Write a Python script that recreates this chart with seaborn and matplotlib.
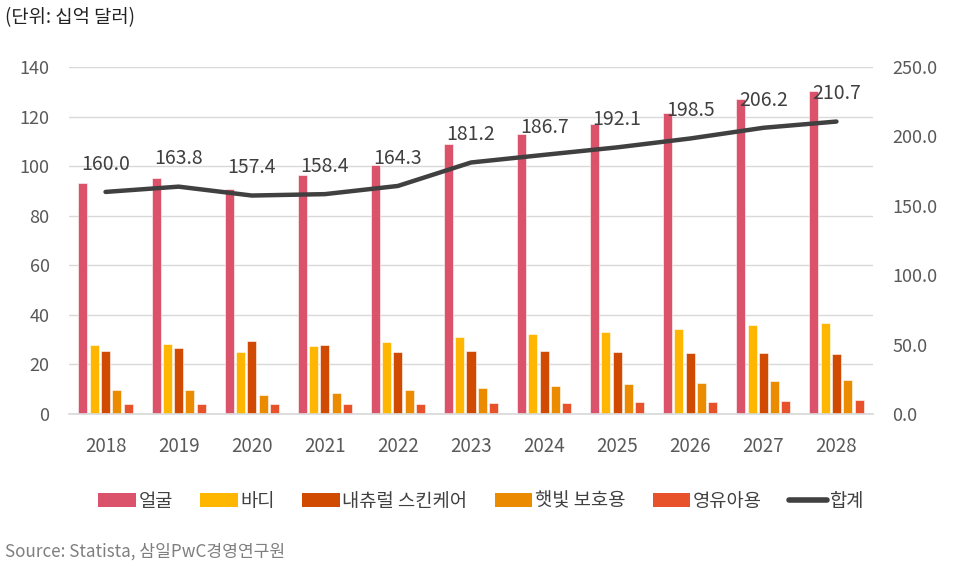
import numpy as np
import pandas as pd
import matplotlib.pyplot as plt
import seaborn as sns
from matplotlib.patches import Patch
from matplotlib.lines import Line2D

years = ['2018', '2019', '2020', '2021', '2022', '2023', '2024', '2025', '2026', '2027', '2028']
face = [93.1, 95.2, 90.7, 96.4, 100.4, 108.9, 112.9, 116.9, 121.4, 127.0, 130.2]
body = [27.8, 28.2, 25.0, 27.4, 29.0, 31.0, 32.3, 33.0, 34.3, 35.9, 36.7]
natural = [25.4, 26.6, 29.4, 27.8, 25.0, 25.4, 25.4, 25.0, 24.6, 24.6, 24.2]
sun = [9.7, 9.7, 7.7, 8.5, 9.7, 10.5, 11.3, 12.1, 12.5, 13.3, 13.7]
baby = [4.0, 4.2, 4.0, 4.2, 4.2, 4.4, 4.6, 4.8, 5.0, 5.3, 5.6]
totals = [160.0, 163.8, 157.4, 158.4, 164.3, 181.2, 186.7, 192.1, 198.5, 206.2, 210.7]

series_names = ['얼굴', '바디', '내츄럴 스킨케어', '햇빛 보호용', '영유아용']
total_name = '합계'
colors = ['#DB536A', '#FFB600', '#D04A02', '#EB8C00', '#E8522A']

sns.set_theme(style='white')
plt.rcParams['font.family'] = ['Noto Sans CJK KR', 'DejaVu Sans']

df = pd.DataFrame({'year': years * 5,
                   'segment': np.repeat(series_names, len(years)),
                   'value': face + body + natural + sun + baby})

fig = plt.figure(figsize=(9.56, 5.64), dpi=100)
ax = fig.add_axes([69 / 956, 1 - 414 / 564, 804 / 956, 347 / 564])

sns.barplot(data=df, x='year', y='value', hue='segment', palette=colors, saturation=1,
            width=0.773, gap=0.2, ax=ax, legend=False, edgecolor='white', linewidth=0.4)

ax.set_ylim(0, 140)
ax.set_yticks(range(0, 141, 20))
ax.set_xlim(-0.5, len(years) - 0.5)
ax.yaxis.grid(True, color='#d9d9d9', linewidth=1)
ax.set_axisbelow(True)
for s in ['top', 'right', 'left']:
    ax.spines[s].set_visible(False)
ax.spines['bottom'].set_color('#d9d9d9')
ax.set_xlabel('')
ax.set_ylabel('')
ax.tick_params(axis='x', length=0, pad=16, labelsize=13.5, labelcolor='#595959')
ax.tick_params(axis='y', length=0, pad=14, labelsize=13, labelcolor='#595959')

ax2 = ax.twinx()
x_pos = np.arange(len(years))
sns.lineplot(x=x_pos, y=totals, ax=ax2, color='#404040', linewidth=3.2)
ax2.set_ylim(0, 250)
ax2.set_yticks(range(0, 251, 50))
ax2.set_yticklabels([f'{v:.1f}' for v in range(0, 251, 50)])
ax2.tick_params(axis='y', length=0, pad=14, labelsize=13, labelcolor='#595959')
for s in ['top', 'right', 'left', 'bottom']:
    ax2.spines[s].set_visible(False)
ax2.set_xlim(-0.5, len(years) - 0.5)

for xp, t in zip(x_pos, totals):
    ax2.annotate(f'{t:.1f}', (xp, t), xytext=(0, 20), textcoords='offset points',
                 ha='center', va='center', fontsize=14, color='#404040')

handles = [Patch(facecolor=c, edgecolor='none') for c in colors]
handles.append(Line2D([0], [0], color='#404040', linewidth=4, solid_capstyle='round'))
fig.legend(handles, series_names + [total_name], loc='center', bbox_to_anchor=(481 / 956, 1 - 501 / 564),
           ncol=6, frameon=False, fontsize=13.5, handlelength=2.0, handleheight=0.8,
           handletextpad=0.15, columnspacing=1.45, labelcolor='#404040')

fig.text(5 / 956, 1 - 18 / 564, '(단위: 십억 달러)', fontsize=13.5, color='#222222', va='center', ha='left')
fig.text(5 / 956, 1 - 552 / 564, 'Source: Statista, 삼일PwC경영연구원', fontsize=12.3, color='#7f7f7f',
         va='center', ha='left')

fig.savefig('out.png', dpi=100)
